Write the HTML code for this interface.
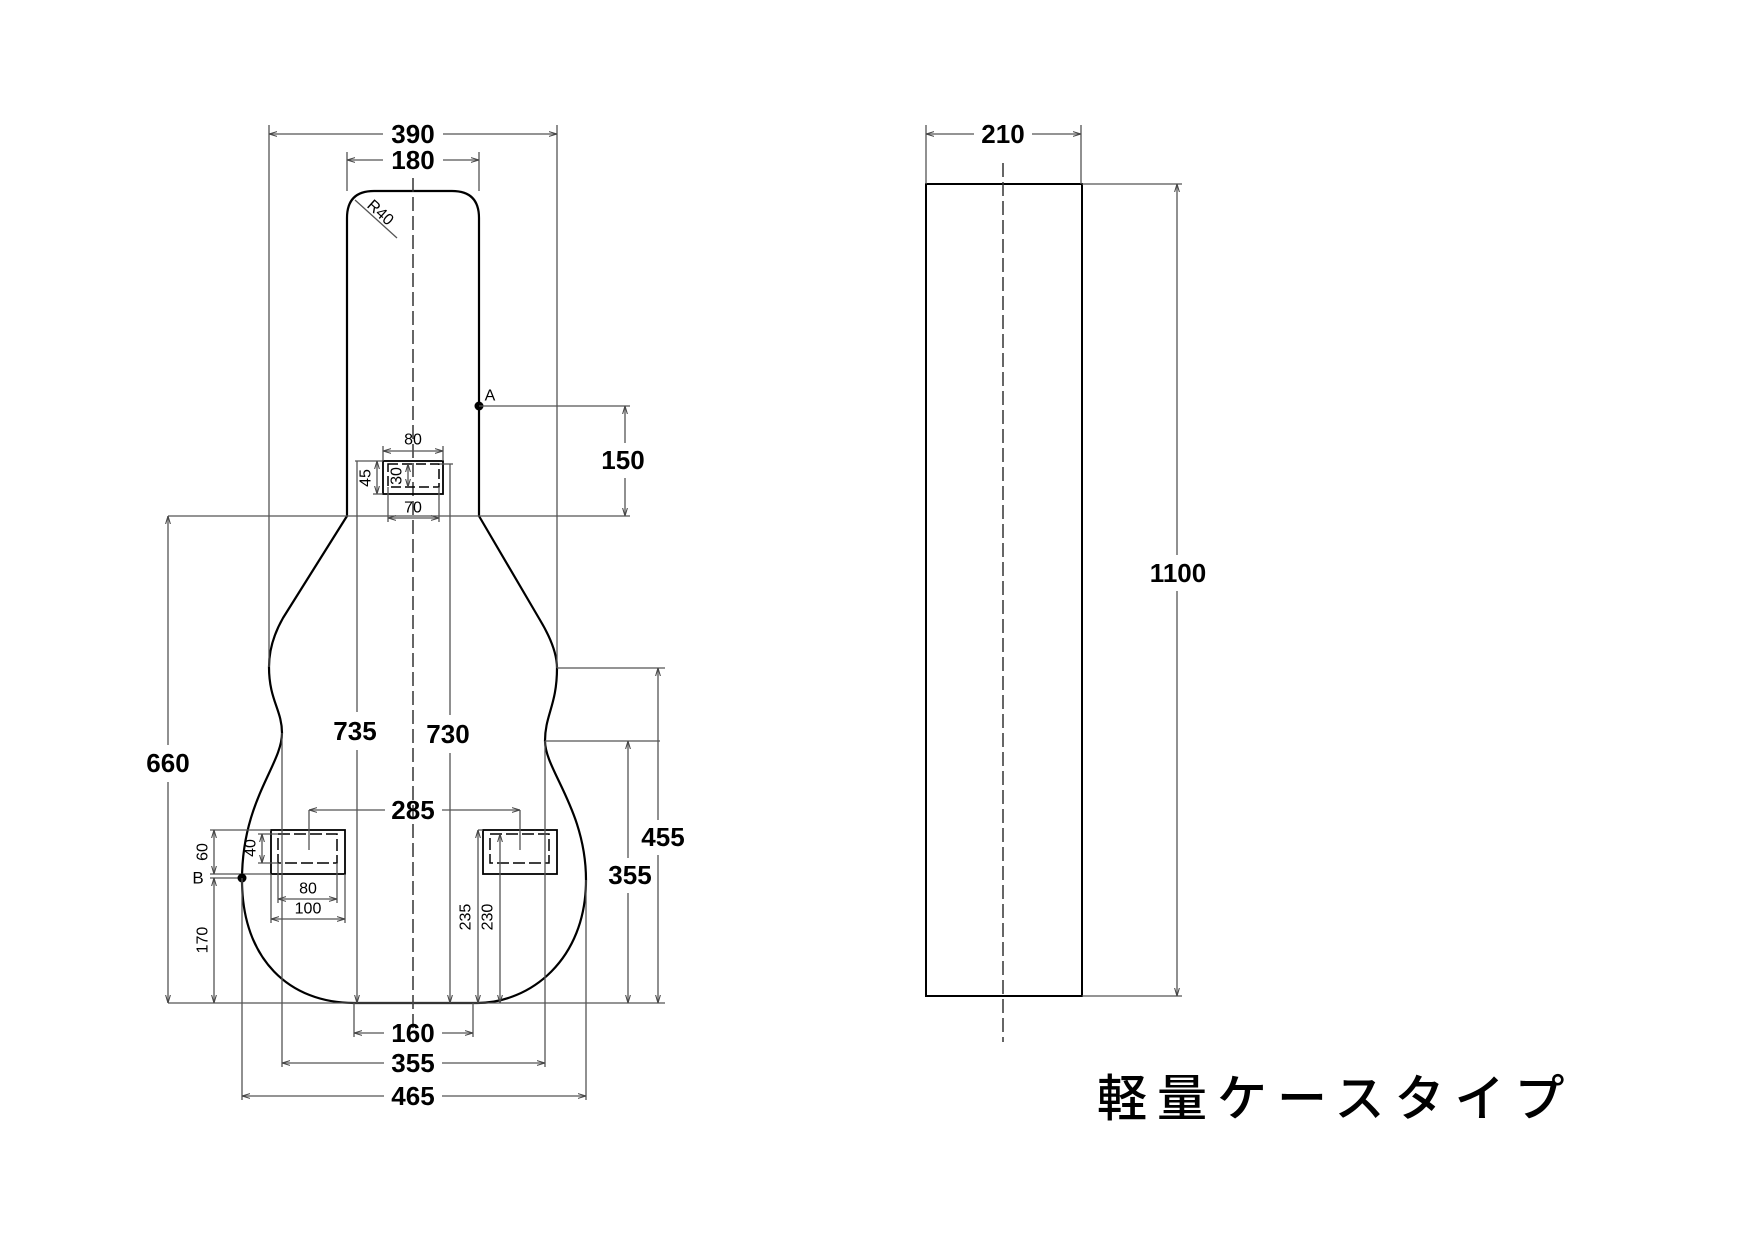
<!DOCTYPE html>
<html><head><meta charset="utf-8"><style>
html,body{margin:0;padding:0;background:#fff;width:1754px;height:1240px;overflow:hidden}
svg{display:block}
.d{stroke:#555;stroke-width:1.3;fill:none}
.o{stroke:#000;stroke-width:2.2;fill:none}
.big{font-family:"Liberation Sans",sans-serif;font-size:26px;font-weight:bold;fill:#000;text-anchor:middle;dominant-baseline:central}
.sm{font-family:"Liberation Sans",sans-serif;font-size:16px;fill:#000;text-anchor:middle;dominant-baseline:central}
</style></head><body>
<svg width="1754" height="1240" viewBox="0 0 1754 1240" xmlns="http://www.w3.org/2000/svg">
<defs>
<marker id="a" viewBox="0 0 10 10" refX="10" refY="5" markerWidth="8" markerHeight="8" orient="auto-start-reverse" markerUnits="userSpaceOnUse"><path d="M0,2 L10,5 L0,8" fill="none" stroke="#444" stroke-width="1.3"/></marker>
</defs>

<path class="o" d="M347,516 L347,218 Q347,191 374,191 L452,191 Q479,191 479,218 L479,516 L540,620 C552,640 557,655 557,668 C557,705 545,715 545,741 C545,770 586,810 586,880 C586,960 530,1003 477,1003 L354,1003 C290,1003 242,960 242,880 C242,800 282,765 282,733 C282,710 269,700 269,667 C269,648 275,632 283,618 Z"/>
<line x1="413" y1="178" x2="413" y2="1030" stroke="#333" stroke-width="1.5" stroke-dasharray="14,5"/>

<line class="d" x1="269" y1="125" x2="269" y2="667"/><line class="d" x1="557" y1="125" x2="557" y2="668"/>
<line class="d" x1="269" y1="134" x2="383" y2="134" marker-start="url(#a)"/><line class="d" x1="443" y1="134" x2="557" y2="134" marker-end="url(#a)"/>
<text class="big" x="413" y="134">390</text>
<line class="d" x1="347" y1="152" x2="347" y2="191"/><line class="d" x1="479" y1="152" x2="479" y2="191"/>
<line class="d" x1="347" y1="160" x2="383" y2="160" marker-start="url(#a)"/><line class="d" x1="443" y1="160" x2="479" y2="160" marker-end="url(#a)"/>
<text class="big" x="413" y="160">180</text>
<line class="d" x1="355" y1="200" x2="397" y2="238" stroke="#222"/>
<text class="sm" x="380" y="213" transform="rotate(42 380 213)">R40</text>
<circle cx="479" cy="406" r="4.5" fill="#000"/>
<text class="sm" x="490" y="396">A</text>
<line class="d" x1="479" y1="406" x2="630" y2="406"/>
<line class="d" x1="625" y1="406" x2="625" y2="443" marker-start="url(#a)"/><line class="d" x1="625" y1="478" x2="625" y2="516" marker-end="url(#a)"/>
<text class="big" x="623" y="460">150</text>
<line class="d" x1="168" y1="516" x2="630" y2="516"/>
<line class="d" x1="168" y1="1003" x2="665" y2="1003"/>
<line class="d" x1="168" y1="516" x2="168" y2="745" marker-start="url(#a)"/><line class="d" x1="168" y1="782" x2="168" y2="1003" marker-end="url(#a)"/>
<text class="big" x="168" y="763">660</text>

<rect x="383" y="461" width="60" height="33" fill="none" stroke="#000" stroke-width="1.8"/>
<rect x="388" y="464" width="51" height="23" fill="none" stroke="#000" stroke-width="1.5" stroke-dasharray="10,4"/>
<line class="d" x1="383" y1="446" x2="383" y2="461"/><line class="d" x1="443" y1="446" x2="443" y2="461"/>
<line class="d" x1="383" y1="451" x2="443" y2="451" marker-start="url(#a)" marker-end="url(#a)"/>
<text class="sm" x="413" y="440">80</text>
<line class="d" x1="388" y1="487" x2="388" y2="522"/><line class="d" x1="439" y1="487" x2="439" y2="522"/>
<line class="d" x1="388" y1="518" x2="439" y2="518" marker-start="url(#a)" marker-end="url(#a)"/>
<text class="sm" x="413" y="508">70</text>
<line class="d" x1="355" y1="461" x2="383" y2="461"/>
<line class="d" x1="377" y1="461" x2="377" y2="494" marker-start="url(#a)" marker-end="url(#a)"/>
<line class="d" x1="373" y1="494" x2="383" y2="494"/>
<text class="sm" x="366" y="478" transform="rotate(-90 366 478)">45</text>
<line class="d" x1="408" y1="464" x2="408" y2="487" marker-start="url(#a)" marker-end="url(#a)"/>
<text class="sm" x="397" y="476" transform="rotate(-90 397 476)">30</text>
<line class="d" x1="439" y1="464" x2="453" y2="464"/>

<line class="d" x1="357" y1="461" x2="357" y2="712"/><line class="d" x1="357" y1="750" x2="357" y2="1003" marker-end="url(#a)"/>
<text class="big" x="355" y="731">735</text>
<line class="d" x1="450" y1="464" x2="450" y2="715"/><line class="d" x1="450" y1="753" x2="450" y2="1003" marker-end="url(#a)"/>
<text class="big" x="448" y="734">730</text>

<line class="d" x1="557" y1="668" x2="665" y2="668"/>
<line class="d" x1="545" y1="741" x2="660" y2="741"/>
<line class="d" x1="658" y1="668" x2="658" y2="820" marker-start="url(#a)"/><line class="d" x1="658" y1="855" x2="658" y2="1003" marker-end="url(#a)"/>
<text class="big" x="663" y="837">455</text>
<line class="d" x1="628" y1="741" x2="628" y2="858" marker-start="url(#a)"/><line class="d" x1="628" y1="893" x2="628" y2="1003" marker-end="url(#a)"/>
<text class="big" x="630" y="875">355</text>

<rect x="271" y="830" width="74" height="44" fill="none" stroke="#000" stroke-width="1.8"/>
<rect x="278" y="834" width="59" height="29" fill="none" stroke="#000" stroke-width="1.5" stroke-dasharray="12,4"/>
<rect x="483" y="830" width="74" height="44" fill="none" stroke="#000" stroke-width="1.8"/>
<rect x="490" y="834" width="59" height="29" fill="none" stroke="#000" stroke-width="1.5" stroke-dasharray="12,4"/>
<line class="d" x1="309" y1="810" x2="309" y2="850"/><line class="d" x1="520" y1="810" x2="520" y2="850"/>
<line class="d" x1="309" y1="810" x2="385" y2="810" marker-start="url(#a)"/><line class="d" x1="442" y1="810" x2="520" y2="810" marker-end="url(#a)"/>
<text class="big" x="413" y="810">285</text>
<line class="d" x1="210" y1="830" x2="271" y2="830"/>
<line class="d" x1="210" y1="874" x2="271" y2="874"/>
<line class="d" x1="210" y1="878" x2="242" y2="878"/>
<line class="d" x1="214" y1="830" x2="214" y2="874" marker-start="url(#a)" marker-end="url(#a)"/>
<text class="sm" x="203" y="852" transform="rotate(-90 203 852)">60</text>
<line class="d" x1="214" y1="878" x2="214" y2="1003" marker-start="url(#a)" marker-end="url(#a)"/>
<text class="sm" x="203" y="940" transform="rotate(-90 203 940)">170</text>
<text class="sm" x="198" y="878" style="font-size:17px">B</text>
<circle cx="242" cy="878" r="4.5" fill="#000"/>
<line class="d" x1="258" y1="834" x2="278" y2="834"/><line class="d" x1="258" y1="863" x2="278" y2="863"/>
<line class="d" x1="262" y1="834" x2="262" y2="863" marker-start="url(#a)" marker-end="url(#a)"/>
<text class="sm" x="251" y="848" transform="rotate(-90 251 848)">40</text>
<line class="d" x1="278" y1="863" x2="278" y2="903"/><line class="d" x1="337" y1="863" x2="337" y2="903"/>
<line class="d" x1="278" y1="899" x2="337" y2="899" marker-start="url(#a)" marker-end="url(#a)"/>
<text class="sm" x="308" y="889">80</text>
<line class="d" x1="271" y1="874" x2="271" y2="923"/><line class="d" x1="345" y1="874" x2="345" y2="923"/>
<line class="d" x1="271" y1="919" x2="345" y2="919" marker-start="url(#a)" marker-end="url(#a)"/>
<text class="sm" x="308" y="909">100</text>
<line class="d" x1="478" y1="830" x2="483" y2="830"/>
<line class="d" x1="478" y1="830" x2="478" y2="1003" marker-start="url(#a)" marker-end="url(#a)"/>
<text class="sm" x="466" y="917" transform="rotate(-90 466 917)">235</text>
<line class="d" x1="500" y1="834" x2="500" y2="1003" marker-start="url(#a)" marker-end="url(#a)"/>
<text class="sm" x="488" y="917" transform="rotate(-90 488 917)">230</text>

<line class="d" x1="354" y1="1003" x2="354" y2="1037"/><line class="d" x1="473" y1="1003" x2="473" y2="1037"/>
<line class="d" x1="354" y1="1033" x2="384" y2="1033" marker-start="url(#a)"/><line class="d" x1="442" y1="1033" x2="473" y2="1033" marker-end="url(#a)"/>
<text class="big" x="413" y="1033">160</text>
<line class="d" x1="282" y1="733" x2="282" y2="1067"/><line class="d" x1="545" y1="741" x2="545" y2="1067"/>
<line class="d" x1="282" y1="1063" x2="384" y2="1063" marker-start="url(#a)"/><line class="d" x1="442" y1="1063" x2="545" y2="1063" marker-end="url(#a)"/>
<text class="big" x="413" y="1063">355</text>
<line class="d" x1="242" y1="878" x2="242" y2="1100"/><line class="d" x1="586" y1="880" x2="586" y2="1100"/>
<line class="d" x1="242" y1="1096" x2="384" y2="1096" marker-start="url(#a)"/><line class="d" x1="442" y1="1096" x2="586" y2="1096" marker-end="url(#a)"/>
<text class="big" x="413" y="1096">465</text>

<rect x="926" y="184" width="156" height="812" fill="none" stroke="#000" stroke-width="2"/>
<line x1="1003" y1="163" x2="1003" y2="1042" stroke="#333" stroke-width="1.5" stroke-dasharray="14,5"/>
<line class="d" x1="926" y1="125" x2="926" y2="184"/><line class="d" x1="1081" y1="125" x2="1081" y2="184"/>
<line class="d" x1="926" y1="134" x2="974" y2="134" marker-start="url(#a)"/><line class="d" x1="1032" y1="134" x2="1081" y2="134" marker-end="url(#a)"/>
<text class="big" x="1003" y="134">210</text>
<line class="d" x1="1082" y1="184" x2="1182" y2="184"/><line class="d" x1="1082" y1="996" x2="1182" y2="996"/>
<line class="d" x1="1177" y1="184" x2="1177" y2="555" marker-start="url(#a)"/><line class="d" x1="1177" y1="591" x2="1177" y2="996" marker-end="url(#a)"/>
<text class="big" x="1178" y="573">1100</text>

<text x="1097" y="1099" style="font-family:'Liberation Sans','Noto Sans CJK JP',sans-serif;font-size:50px;font-weight:500;letter-spacing:10px;dominant-baseline:central" fill="#000">軽量ケースタイプ</text>
</svg>
</body></html>
